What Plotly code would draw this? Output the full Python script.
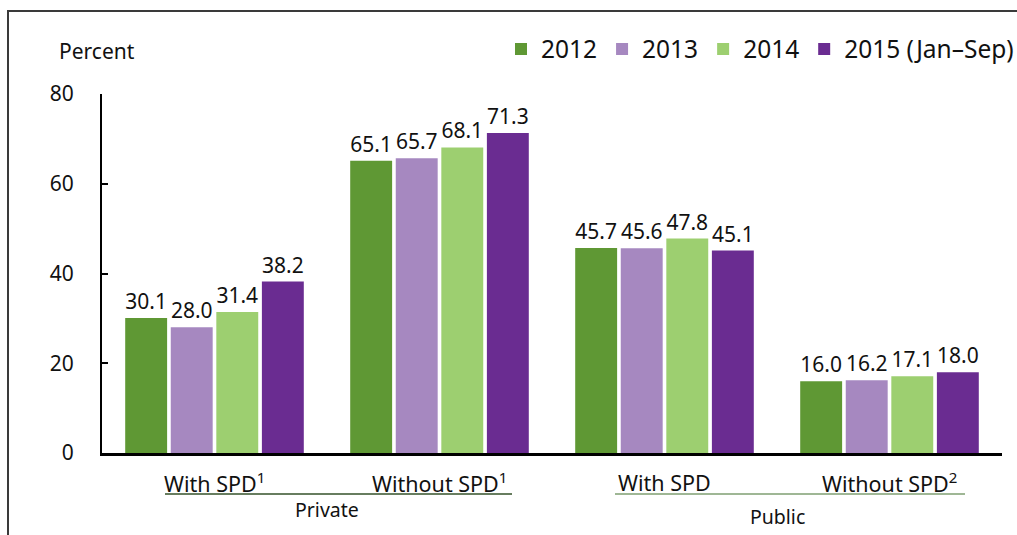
import plotly.graph_objects as go

categories = ["Private With SPD", "Private Without SPD", "Public With SPD", "Public Without SPD"]
cat_labels = ["With SPD<sup>1</sup>", "Without SPD<sup>1</sup>", "With SPD", "Without SPD<sup>2</sup>"]
groups = ["Private", "Public"]
years = ["2012", "2013", "2014", "2015 (Jan\u2013Sep)"]
values = {
    "2012": [30.1, 65.1, 45.7, 16.0],
    "2013": [28.0, 65.7, 45.6, 16.2],
    "2014": [31.4, 68.1, 47.8, 17.1],
    "2015 (Jan\u2013Sep)": [38.2, 71.3, 45.1, 18.0],
}
colors = ["#5f9834", "#a688c0", "#9dcf70", "#6a2c91"]
y_ticks = [0, 20, 40, 60, 80]

FONT = "Noto Sans"
W, H = 1017, 535
L, T = 102, 94
R = W - L - 900
B = H - T - 359
pw, ph = W - L - R, H - T - B

def px(x):
    return (x - L) / pw

def py(y):
    return (H - B - y) / ph

fig = go.Figure()
for yr, col in zip(years, colors):
    fig.add_trace(go.Bar(
        name=yr, x=categories, y=values[yr], marker=dict(color=col, line=dict(width=0)),
        texttemplate="%{y:.1f}", textposition="outside",
        textfont=dict(size=21, color="#111111", family=FONT), cliponaxis=False,
    ))

annotations = []
for c, lab in zip(categories, cat_labels):
    annotations.append(dict(x=c, xref="x", y=py(482), yref="paper", text=lab, showarrow=False,
                            xanchor="center",
                            font=dict(size=21.5, family=FONT, color="#111111"), yanchor="middle"))
annotations.append(dict(x=px(327), xref="paper", y=py(509), yref="paper", text=groups[0], showarrow=False,
                        xanchor="center",
                        font=dict(size=19.5, family=FONT, color="#111111"), yanchor="middle"))
annotations.append(dict(x=px(777), xref="paper", y=py(516), yref="paper", text=groups[1], showarrow=False,
                        xanchor="center",
                        font=dict(size=19.5, family=FONT, color="#111111"), yanchor="middle"))
annotations.append(dict(x=px(57), xref="paper", y=py(51), yref="paper", text="Percent", showarrow=False,
                        xanchor="left", font=dict(size=21, family=FONT, color="#111111"), yanchor="middle"))

shapes = [
    dict(type="line", xref="paper", yref="paper", x0=px(165), x1=px(512), y0=py(494), y1=py(494),
         line=dict(color="#34522a", width=1.5)),
    dict(type="line", xref="paper", yref="paper", x0=px(615), x1=px(965), y0=py(494), y1=py(494),
         line=dict(color="#7f9f72", width=1.5)),
    dict(type="path", xref="paper", yref="paper",
         path=f"M {px(8)},{py(545)} L {px(8)},{py(11)} L {px(1030)},{py(11)}",
         line=dict(color="#3a3a3a", width=2)),
]

fig.update_layout(
    width=W, height=H,
    margin=dict(l=L, r=R, t=T, b=B, autoexpand=False),
    plot_bgcolor="white", paper_bgcolor="white",
    barmode="group", bargap=0.19, bargroupgap=0.08,
    font=dict(family=FONT, size=20, color="#111111"),
    showlegend=True,
    legend=dict(orientation="h", x=px(1019), xanchor="right", y=py(49), yanchor="middle",
                font=dict(size=24.5, family=FONT), itemwidth=30, traceorder="normal",
                bgcolor="rgba(0,0,0,0)"),
    xaxis=dict(showticklabels=False, ticks="", showline=True, linecolor="black", linewidth=2.5,
               range=[-0.5, 3.5], showgrid=False, zeroline=False),
    yaxis=dict(range=[0, 80], tickvals=y_ticks, ticks="inside", ticklen=6, tickwidth=2,
               tickcolor="black", showline=True, linecolor="black", linewidth=2,
               showgrid=False, zeroline=False, ticklabelstandoff=22,
               tickfont=dict(size=21, family=FONT, color="#111111")),
    annotations=annotations, shapes=shapes,
)

fig.write_html("out.html", config={"displayModeBar": False},
               post_script="document.body.style.margin='0';document.body.style.overflow='hidden';")
